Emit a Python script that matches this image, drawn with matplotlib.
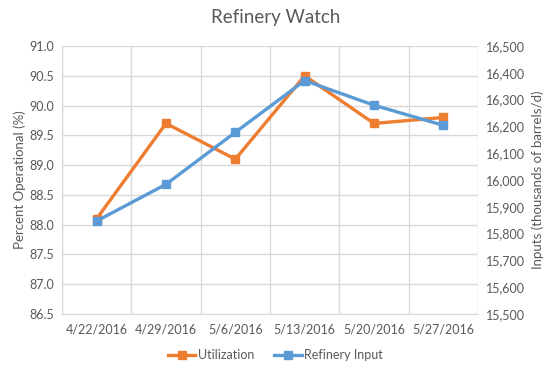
import numpy as np
import matplotlib.pyplot as plt
from matplotlib.ticker import FuncFormatter

# Data
dates = ['4/22/2016', '4/29/2016', '5/6/2016', '5/13/2016', '5/20/2016', '5/27/2016']
utilization = [88.1, 89.7, 89.1, 90.5, 89.7, 89.8]  # percent
refinery_input = [15847, 15984, 16178, 16371, 16279, 16204]  # thousands of barrels/d

orange = '#ED7D31'
blue = '#5B9BD5'
grid_c = '#D9D9D9'
text_c = '#595959'

plt.rcParams['font.family'] = ['Lato', 'DejaVu Sans']

fig = plt.figure(figsize=(5.51, 3.70), dpi=100)
ax = fig.add_axes([62 / 551, 1 - 314 / 370, 416 / 551, 268 / 370])
ax2 = ax.twinx()

x = np.arange(len(dates))

l1, = ax.plot(x, utilization, color=orange, lw=2.4, marker='s', ms=6, label='Utilization', zorder=3)
l2, = ax2.plot(x, refinery_input, color=blue, lw=2.4, marker='s', ms=6, label='Refinery Input', zorder=3)

ax.set_xlim(-0.5, len(dates) - 0.5)
ax.set_ylim(86.5, 91.0)
ax.set_yticks(np.arange(86.5, 91.01, 0.5))
ax.yaxis.set_major_formatter(FuncFormatter(lambda v, p: f'{v:.1f}'))
ax2.set_ylim(15500, 16500)
ax2.set_yticks(np.arange(15500, 16501, 100))
ax2.yaxis.set_major_formatter(FuncFormatter(lambda v, p: f'{int(v):,}'))

ax.set_xticks(x)
ax.set_xticklabels(dates)
ax.set_xticks(np.arange(-0.5, len(dates)), minor=True)

# gridlines
ax.grid(True, axis='y', color=grid_c, lw=1)
ax.grid(True, axis='x', which='minor', color=grid_c, lw=1)
ax.set_axisbelow(True)

for a in (ax, ax2):
    for s in a.spines.values():
        s.set_visible(False)
    a.tick_params(length=0, which='both', colors=text_c, labelsize=9)
ax.spines['bottom'].set_visible(True)
ax.spines['bottom'].set_color(grid_c)
ax.spines['left'].set_visible(True)
ax.spines['left'].set_color(grid_c)
ax.tick_params(axis='x', pad=7)
ax.tick_params(axis='y', pad=6)
ax2.tick_params(axis='y', pad=6)

ax.set_ylabel('Percent Operational (%)', color=text_c, fontsize=9.5, labelpad=2)
ax2.set_ylabel('Inputs (thousands of barrels/d)', color=text_c, fontsize=9.5, labelpad=4)

fig.suptitle('Refinery Watch', x=0.5, y=0.975, fontsize=13.5, color=text_c)

fig.legend(handles=[l1, l2], loc='center', bbox_to_anchor=(0.5, 1 - 355 / 370),
           ncol=2, frameon=False, fontsize=9, labelcolor=text_c,
           handlelength=2.2, columnspacing=1.6, handletextpad=0.2)

fig.savefig('out.png', dpi=100)
